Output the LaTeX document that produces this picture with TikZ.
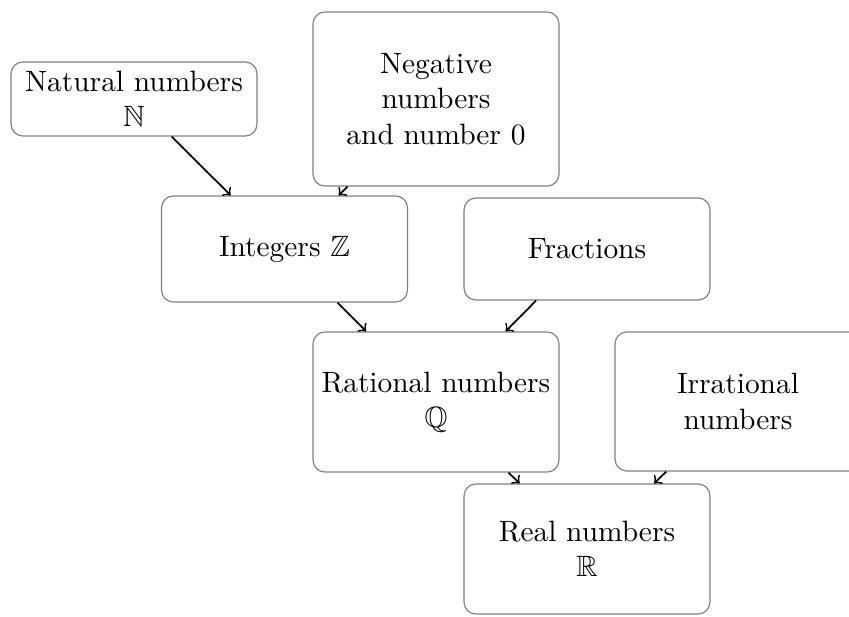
\documentclass[tikz,border=0pt]{standalone}
\usepackage{amssymb}
\begin{document}
\begin{tikzpicture}[x=0.34pt,y=-0.34pt,
  box/.style={draw=gray,line width=0.4pt,rounded corners=4pt,align=center,
    minimum width=83.6pt,inner sep=2pt},
  arr/.style={->,semithick}]
\useasboundingbox (0,0) rectangle (849,616);
\node[box,minimum height=74*0.34pt]  (nat) at (134,99)  {Natural numbers\\$\mathbb{N}$};
\node[box,minimum height=174*0.34pt] (neg) at (436,99)  {Negative\\numbers\\and number 0};
\node[box,minimum height=106*0.34pt] (int) at (284.5,249) {Integers $\mathbb{Z}$};
\node[box,minimum height=102*0.34pt] (fra) at (587,249) {Fractions};
\node[box,minimum height=140*0.34pt] (rat) at (436,402) {Rational numbers\\$\mathbb{Q}$};
\node[box,minimum height=139*0.34pt] (irr) at (738,401.5) {Irrational\\numbers};
\node[box,minimum height=130*0.34pt] (rea) at (587,549) {Real numbers\\$\mathbb{R}$};
\draw[arr] (nat) -- (int);
\draw[arr] (neg) -- (int);
\draw[arr] (int) -- (rat);
\draw[arr] (fra) -- (rat);
\draw[arr] (rat) -- (rea);
\draw[arr] (irr) -- (rea);
\end{tikzpicture}
\end{document}
